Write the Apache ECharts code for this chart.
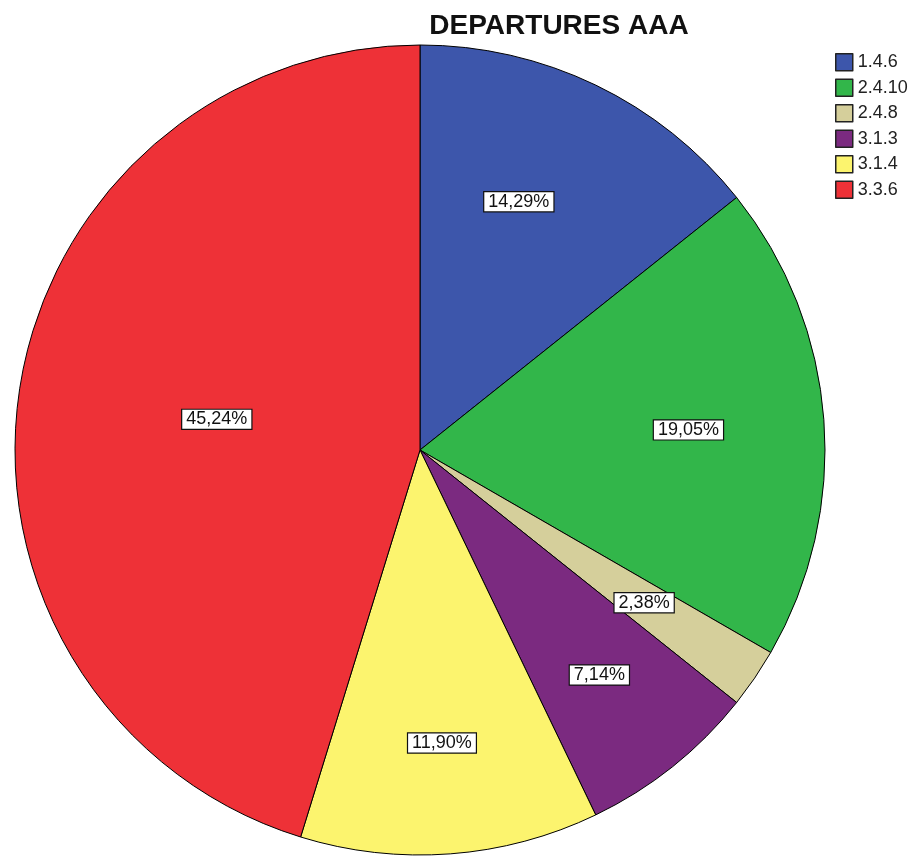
<!DOCTYPE html>
<html><head><meta charset="utf-8">
<script src="https://cdn.jsdelivr.net/npm/echarts@6/dist/echarts.min.js"></script>
<style>html,body{margin:0;padding:0;background:#fff}#c{width:915px;height:857px}</style>
</head><body><div id="c"></div>
<script>
const categories = ['1.4.6','2.4.10','2.4.8','3.1.3','3.1.4','3.3.6'];
const counts = [6, 8, 1, 3, 5, 19];
const percentLabels = ['14,29%','19,05%','2,38%','7,14%','11,90%','45,24%'];
const colors = ['#3D56AB','#32B64A','#D5CF9B','#7B2A80','#FCF46E','#EE3137'];
// label placement style: radial scale relative to the default inside position, and angular shift (deg)
const labelRadiusScale = [1.30, 1.31, 1.32, 1.40, 1.43, 1.0];
const labelAngleShift = [-4, 0, 0, 0, 0, 0];

const CX = 420, CY = 450, R = 405;
const chart = echarts.init(document.getElementById('c'));
chart.setOption({
  animation: false,
  title: {text: 'DEPARTURES AAA', left: 554, top: 7, textAlign: 'center',
    textStyle: {fontFamily: 'Liberation Sans, Arial', fontSize: 28, fontWeight: 'bold', color: '#111'}},
  legend: {orient: 'vertical', left: 830, top: 48, itemWidth: 17, itemHeight: 17, itemGap: 7,
    icon: 'rect', textStyle: {fontFamily: 'Liberation Sans, Arial', fontSize: 18, color: '#222'},
    itemStyle: {borderColor: '#222', borderWidth: 1.5}},
  series: [{
    type: 'pie', center: [CX, CY], radius: [0, R], startAngle: 90, clockwise: true,
    itemStyle: {borderColor: '#000', borderWidth: 1},
    label: {position: 'inside', formatter: p => percentLabels[p.dataIndex],
      fontFamily: 'Liberation Sans, Arial', fontSize: 18, lineHeight: 17, color: '#111',
      backgroundColor: '#fff', borderColor: '#111', borderWidth: 1.2, padding: [1, 4, 1, 4]},
    labelLayout: function (p) {
      const r = p.labelRect;
      const dx = r.x + r.width / 2 - CX, dy = r.y + r.height / 2 - CY;
      const s = labelRadiusScale[p.dataIndex];
      const a = labelAngleShift[p.dataIndex] * Math.PI / 180;
      const rx = dx * Math.cos(a) - dy * Math.sin(a);
      const ry = dx * Math.sin(a) + dy * Math.cos(a);
      return {x: CX + rx * s, y: CY + ry * s};
    },
    emphasis: {disabled: true},
    data: categories.map((c, i) => ({name: c, value: counts[i], itemStyle: {color: colors[i]}}))
  }]
});
</script></body></html>
